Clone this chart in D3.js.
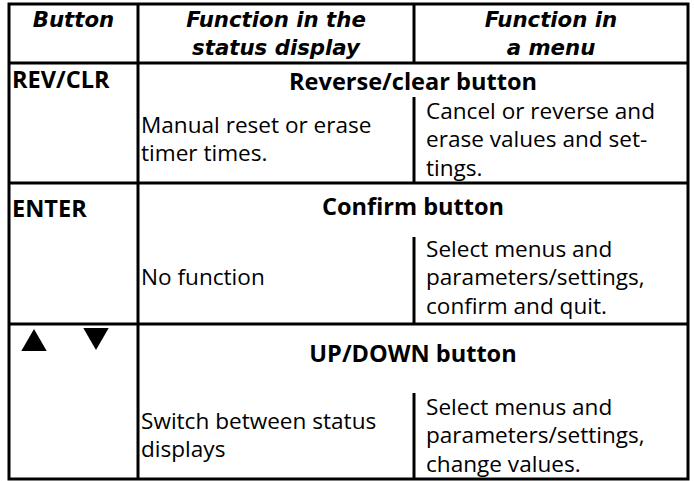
<!DOCTYPE html>
<html>
<head>
<meta charset="utf-8">
<script src="https://cdn.jsdelivr.net/npm/d3@7"></script>
<style>
  html, body { margin: 0; padding: 0; background: #fff; }
  svg { display: block; }
</style>
</head>
<body>
<svg id="chart" width="694" height="481"></svg>
<script>
// ---------------- data ----------------
const headers = [
  ["Button"],
  ["Function in the", "status display"],
  ["Function in", "a menu"]
];
const buttonLabels = ["REV/CLR", "ENTER", ""];
const arrowSymbols = [[], [], ["up", "down"]];
const buttonTitles = ["Reverse/clear button", "Confirm button", "UP/DOWN button"];
const statusTexts = [
  ["Manual reset or erase", "timer times."],
  ["No function"],
  ["Switch between status", "displays"]
];
const menuTexts = [
  ["Cancel or reverse and", "erase values and set-", "tings."],
  ["Select menus and", "parameters/settings,", "confirm and quit."],
  ["Select menus and", "parameters/settings,", "change values."]
];

// ---------------- layout ----------------
const W = 694, H = 481;
const colEdges = [9, 138, 414, 688];
const rowEdges = [4, 63, 183, 324, 479];
// per data row: baseline of label/title, start of the col2/col3 divider,
// baseline of first menu line
const rowLayout = [
  { label: 88, title: 90, divider: 97, menu: 119 },
  { label: 217, title: 215, divider: 237, menu: 257 },
  { label: 0, title: 362, divider: 393, menu: 415 }
];
const lineH = 28.3;
const FONT = "'Open Sans', 'Noto Sans', sans-serif";
const HEAD_FONT = "'DejaVu Sans', 'Open Sans', sans-serif";
const stroke = 3;

const svg = d3.select("#chart");
svg.append("rect").attr("width", W).attr("height", H).attr("fill", "#fff");

const x = d3.scaleOrdinal().domain([0, 1, 2, 3]).range(colEdges);

function fit(text, family, weight, style, target) {
  const t = svg.append("text").attr("font-family", family)
    .attr("font-weight", weight).attr("font-style", style)
    .attr("font-size", 100).text(text);
  const len = t.node().getComputedTextLength();
  t.remove();
  return 100 * target / len;
}
const bodySize = fit("Select menus andparameters/settings,", FONT, 400, "normal", 405);
const boldSize = fit("Reverse/clear button", FONT, 700, "normal", 248);
const headSize = Math.min(fit("status display", HEAD_FONT, 700, "italic", 168), 22);

// ---------------- header ----------------
const head = svg.append("g");
headers.forEach((lines, c) => {
  const cx = (x(c) + x(c + 1)) / 2;
  head.selectAll(null).data(lines).join("text")
    .attr("x", cx)
    .attr("y", (d, i) => 27 + i * 28)
    .attr("text-anchor", "middle")
    .attr("font-family", HEAD_FONT)
    .attr("font-weight", 700)
    .attr("font-style", "italic")
    .attr("font-size", headSize)
    .attr("fill", "#000")
    .text(d => d);
});

// ---------------- rows ----------------
const body = svg.append("g");
buttonTitles.forEach((title, r) => {
  const L = rowLayout[r];
  if (buttonLabels[r]) {
    body.append("text")
      .attr("x", x(0) + 3).attr("y", L.label)
      .attr("font-family", FONT).attr("font-weight", 700)
      .attr("font-size", boldSize).attr("fill", "#000")
      .text(buttonLabels[r]);
  }
  // arrow symbols
  const tri = d3.symbol().type(d3.symbolTriangle).size(280);
  arrowSymbols[r].forEach((s, i) => {
    const cx = i === 0 ? 34 : 96;
    const cy = s === "up" ? rowEdges[r + 1] + 5 + 14.7 : rowEdges[r + 1] + 26 - 14.7;
    body.append("path")
      .attr("d", tri())
      .attr("transform", `translate(${cx},${cy}) rotate(${s === "up" ? 0 : 180})`)
      .attr("fill", "#000");
  });
  // title centered across cols 2-3
  body.append("text")
    .attr("x", (x(1) + x(3)) / 2).attr("y", L.title)
    .attr("text-anchor", "middle")
    .attr("font-family", FONT).attr("font-weight", 700)
    .attr("font-size", boldSize).attr("fill", "#000")
    .text(title);
  // menu texts (col 3)
  const menu = menuTexts[r];
  body.selectAll(null).data(menu).join("text")
    .attr("x", x(2) + 12)
    .attr("y", (d, i) => L.menu + i * lineH)
    .attr("font-family", FONT).attr("font-size", bodySize).attr("fill", "#000")
    .text(d => d);
  // status texts (col 2), vertically centred on menu block
  const st = statusTexts[r];
  const mid = L.menu + (menu.length - 1) * lineH / 2;
  const first = mid - (st.length - 1) * lineH / 2;
  body.selectAll(null).data(st).join("text")
    .attr("x", x(1) + 3)
    .attr("y", (d, i) => first + i * lineH)
    .attr("font-family", FONT).attr("font-size", bodySize).attr("fill", "#000")
    .text(d => d);
});

// ---------------- grid lines ----------------
const grid = svg.append("g").attr("stroke", "#000").attr("stroke-width", stroke).attr("fill", "none");
grid.append("rect")
  .attr("x", x(0)).attr("y", rowEdges[0])
  .attr("width", x(3) - x(0)).attr("height", rowEdges[4] - rowEdges[0]);
grid.selectAll(".h").data(rowEdges.slice(1, 4)).join("line")
  .attr("x1", x(0)).attr("x2", x(3)).attr("y1", d => d).attr("y2", d => d);
grid.append("line")
  .attr("x1", x(1)).attr("x2", x(1)).attr("y1", rowEdges[0]).attr("y2", rowEdges[4]);
grid.append("line")
  .attr("x1", x(2)).attr("x2", x(2)).attr("y1", rowEdges[0]).attr("y2", rowEdges[1]);
grid.selectAll(".v").data(rowLayout).join("line")
  .attr("x1", x(2)).attr("x2", x(2))
  .attr("y1", d => d.divider)
  .attr("y2", (d, i) => rowEdges[i + 2]);
</script>
</body>
</html>
